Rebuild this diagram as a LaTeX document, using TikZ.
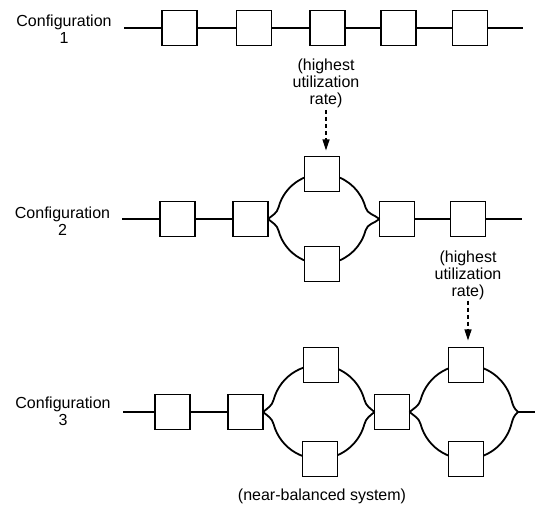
\documentclass[tikz,border=0pt]{standalone}
\usepackage{fontspec}
\setmainfont{Liberation Sans}
\usetikzlibrary{arrows.meta,calc}
\tikzset{
  unit/.style={draw, line width=1.9pt, fill=white, minimum width=35pt,
    minimum height=35pt, inner sep=0pt, outer sep=0pt},
  wire/.style={line width=1.3pt},
  loopline/.style={line width=1.8pt},
  lbl/.style={font=\fontsize{16}{17}\selectfont, align=center, inner sep=0pt},
  hint/.style={line width=1.2pt, dash pattern=on 4pt off 3pt,
    -{Triangle[length=11pt,width=7pt]}},
}
% parallel branch: centre, radius, left fork point, right fork point
\newcommand\lensring[4]{%
  \draw[loopline] (#3) to[out=40,in=255] ($(#1)+(165:#2pt)$)
    arc[start angle=165,end angle=15,radius=#2pt] to[out=-75,in=140] (#4);
  \draw[loopline] (#3) to[out=-40,in=105] ($(#1)+(195:#2pt)$)
    arc[start angle=195,end angle=345,radius=#2pt] to[out=75,in=220] (#4);
}
\begin{document}
\begin{tikzpicture}[x=1pt,y=1pt]
\useasboundingbox (0,0) rectangle (535,510);

% ---------- configuration 1: five stations in series ----------
\node[lbl, anchor=north] (cfg1) at (64,495) {Configuration\\1};
\coordinate (s1) at (124,482);
\coordinate (e1) at (523,482);
\node[unit] (b11) at (179.5,482) {};
\node[unit] (b12) at (254,482) {};
\node[unit] (b13) at (327.5,482) {};
\node[unit] (b14) at (398.5,482) {};
\node[unit] (b15) at (470,482) {};
\draw[wire] (s1) -- (b11) -- (b12) -- (b13) -- (b14) -- (b15) -- (e1);
\node[lbl, anchor=north] (t1) at (326,451) {(highest\\utilization\\rate)};

% ---------- configuration 2: third station doubled ----------
\node[lbl, anchor=north] (cfg2) at (62.5,303.7) {Configuration\\2};
\coordinate (s2) at (122,291);
\coordinate (e2) at (522,291);
\coordinate (k2) at (322,291);
\node[unit] (a1) at (177.5,291) {};
\node[unit] (a2) at (250.5,291) {};
\node[unit] (a3) at (397,291) {};
\node[unit] (a4) at (468,291) {};
\draw[wire] (s2) -- (a1) -- (a2);
\draw[wire] (a3) -- (a4) -- (e2);
\lensring{k2}{45}{a2.east}{a3.west}
\node[unit] (u2) at (322,336) {};
\node[unit] (d2) at (322,246) {};
\node[lbl, anchor=north] (t2) at (468,259.7) {(highest\\utilization\\rate)};

% ---------- configuration 3: two doubled stations ----------
\node[lbl, anchor=north] (cfg3) at (63,113.7) {Configuration\\3};
\coordinate (s3) at (123,98);
\coordinate (k3a) at (319,98);
\coordinate (k3b) at (466,98);
\coordinate (r3) at (518,98);
\coordinate (e3) at (535,98);
\node[unit] (c1) at (172.5,98) {};
\node[unit] (c2) at (245.5,98) {};
\node[unit] (c3) at (392,98) {};
\draw[wire] (s3) -- (c1) -- (c2);
\draw[wire] (r3) -- (e3);
\lensring{k3a}{47}{c2.east}{c3.west}
\lensring{k3b}{47}{c3.east}{r3}
\node[unit] (w1) at (321,145) {};
\node[unit] (w2) at (320,51) {};
\node[unit] (v1) at (466,145) {};
\node[unit] (v2) at (466,51) {};
\node[lbl, anchor=base] (t3) at (322,9.3) {(near-balanced system)};

% ---------- bottleneck pointers ----------
\draw[hint, shorten <=1.5pt, shorten >=6pt] (t1.south) -- (t1.south |- u2.north);
\draw[hint, shorten <=1pt, shorten >=7pt] (t2.south) -- (t2.south |- v1.north);
\end{tikzpicture}
\end{document}
